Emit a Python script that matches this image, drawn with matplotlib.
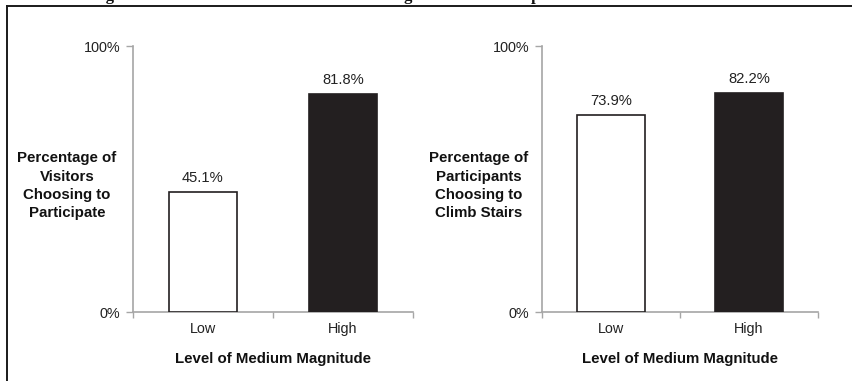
import matplotlib
matplotlib.use("Agg")
import matplotlib.pyplot as plt
from matplotlib.lines import Line2D
from matplotlib.ticker import FuncFormatter

plt.rcParams['font.family'] = ['Liberation Sans', 'DejaVu Sans']

# Data
categories = ["Low", "High"]
visitors_pct = [45.1, 81.8]
stairs_pct = [73.9, 82.2]
ylabels = ["Percentage of\nVisitors\nChoosing to\nParticipate",
           "Percentage of\nParticipants\nChoosing to\nClimb Stairs"]
xlabel = "Level of Medium Magnitude"
title = "Figure 3. Effects of the Level of Medium Magnitude on Participation"

W, H = 852, 381
fig = plt.figure(figsize=(W / 100, H / 100), dpi=100)

axis_gray = "#a6a6a6"
dark = "#231f20"

# (values, y label, axis left px, axis width px, y-label centre offset px)
panels = [
    (visitors_pct, ylabels[0], 133, 280, 66),
    (stairs_pct, ylabels[1], 542, 276, 63),
]

for values, ylab, left_px, width_px, lab_off in panels:
    ax = fig.add_axes([left_px / W, 1 - 312 / H, width_px / W, 266 / H])
    x = range(len(categories))
    ax.bar(x, values, width=0.49, color=["white", dark],
           edgecolor=dark, linewidth=1.2, zorder=3)
    for xi, v in zip(x, values):
        ax.annotate(f"{v:.1f}%", (xi, v), xytext=(0, 5), textcoords="offset points",
                    ha="center", va="bottom", fontsize=10.6, color="#222222")
    ax.set_xlim(-0.5, 1.5)
    ax.set_ylim(0, 100)
    ax.set_yticks([0, 100])
    ax.yaxis.set_major_formatter(FuncFormatter(lambda v, p: f"{v:.0f}%"))
    ax.set_xticks([-0.5, 0.5, 1.5], minor=False)
    ax.set_xticklabels(["", "", ""])
    ax.set_xticks(list(x), minor=True)
    ax.set_xticklabels(categories, minor=True)
    ax.tick_params(axis="x", which="major", length=4, width=1, color=axis_gray, direction="out")
    ax.tick_params(axis="x", which="minor", length=0, pad=7, labelsize=10.4, labelcolor="#222222")
    ax.tick_params(axis="y", length=5, width=1, color=axis_gray, direction="out",
                   pad=4, labelsize=10.4, labelcolor="#222222")
    for s in ("top", "right"):
        ax.spines[s].set_visible(False)
    for s in ("left", "bottom"):
        ax.spines[s].set_color(axis_gray)
        ax.spines[s].set_linewidth(1.2)
    ax.set_facecolor("none")
    ax.text(-lab_off / width_px, 0.475, ylab, transform=ax.transAxes, ha="center", va="center",
            fontsize=10.8, fontweight="bold", linespacing=1.38, color="#111111")
    ax.text(0.5, -0.175, xlabel, transform=ax.transAxes, ha="center", va="center",
            fontsize=10.8, fontweight="bold", color="#111111")

# Frame lines along the top and left edge
fig.add_artist(Line2D([7 / W, 1.0], [1 - 6 / H, 1 - 6 / H], transform=fig.transFigure,
                      color="#1a1a1a", linewidth=1.4))
fig.add_artist(Line2D([7 / W, 7 / W], [0, 1 - 6 / H], transform=fig.transFigure,
                      color="#1a1a1a", linewidth=1.4))

# Caption sitting above the frame
fig.text(91 / W, 1.0, title, ha="left", va="baseline",
         fontsize=12, fontweight="bold", family=["Liberation Serif", "DejaVu Serif"],
         color="#111111")

fig.savefig("out.png", dpi=100)
